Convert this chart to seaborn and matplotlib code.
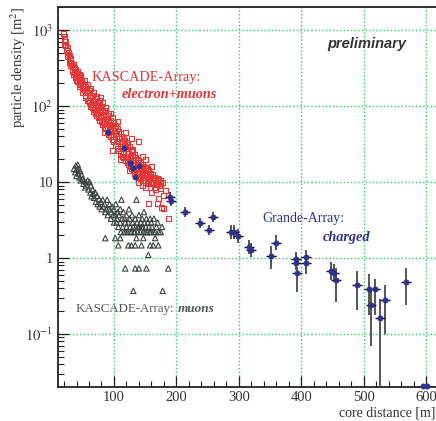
import numpy as np
import matplotlib
matplotlib.use('Agg')
import matplotlib.pyplot as plt
import seaborn as sns
from matplotlib.ticker import FixedLocator, FixedFormatter, MultipleLocator, LogLocator, NullFormatter

# ---- DATA ----
# KASCADE-Array: electron+muons (open red squares)
ekas_x = [19, 20, 20, 21, 22, 23, 24, 25, 26, 25, 27, 28, 29, 30, 30, 31, 32,
          33, 34, 35, 35, 36, 37, 38, 39, 40, 40, 41, 42, 42, 43, 44, 45, 45, 46, 47, 47,
          48, 49, 50, 50, 51, 52, 52, 53, 54, 55, 55, 56, 57, 57, 58, 59, 60, 60, 61, 62, 62,
          63, 64, 65, 65, 66, 67, 67, 68, 69, 70, 70, 71, 72, 72, 73, 74, 75, 75, 76, 77, 77,
          78, 79, 80, 80, 81, 82, 82, 83, 84, 85, 85, 86, 87, 87, 88, 89, 90, 90, 91, 92, 92,
          93, 94, 95, 95, 96, 97, 97, 98, 99, 100, 100, 101, 102, 103, 104, 105, 105, 106, 107,
          108, 107, 109, 110, 110, 111, 112, 113, 112, 114, 115, 115, 116, 117, 118, 117,
          119, 120, 120, 121, 122, 123, 122, 124, 125, 125, 126, 127, 128, 128, 129, 130, 130,
          131, 132, 133, 133, 134, 135, 135, 136, 137, 138, 138, 139, 140, 140, 141, 142, 143,
          143, 144, 145, 145, 146, 147, 148, 148, 149, 150, 150, 151, 152, 153, 153, 154, 155,
          155, 156, 157, 158, 158, 159, 160, 161, 162, 163, 164, 165, 166, 167, 168, 169, 170,
          171, 172, 173, 174, 175, 177, 155, 169, 179, 187, 171, 176, 180, 174, 160, 182, 166,
          150, 139, 130, 145,
          95, 105, 118, 128, 150, 160, 98, 110, 125, 140, 85, 78, 145, 165]
ekas_y = [900, 830, 650, 760, 700, 620, 540, 600, 480, 450, 510, 470, 380, 430, 340, 400, 360,
          330, 290, 350, 260, 310, 280, 300, 240, 270, 220, 250, 290, 210, 240, 200, 260, 180, 220, 190, 250,
          210, 170, 200, 150, 180, 220, 160, 170, 140, 180, 130, 160, 120, 190, 150, 120, 160, 110, 140, 100, 170,
          130, 105, 140, 95, 120, 85, 150, 115, 90, 125, 80, 105, 75, 135, 100, 80, 110, 70, 95, 65, 120,
          90, 70, 100, 62, 85, 58, 110, 78, 60, 88, 52, 72, 50, 95, 68, 52, 75, 45, 62, 42, 80,
          58, 46, 65, 40, 55, 36, 70, 50, 40, 60, 34, 48, 30, 55, 44, 34, 50, 28, 40,
          26, 47, 38, 29, 44, 24, 34, 22, 40, 32, 25, 38, 21, 29, 19, 35,
          28, 22, 33, 18, 25, 17, 31, 24, 19, 29, 16, 22, 15, 26, 21, 17, 25,
          14, 19, 13, 23, 18, 15, 21, 12.5, 17, 12, 20, 16.5, 13.5, 19, 11.5, 15, 11,
          18, 15, 12.5, 17, 10.5, 14, 10.5, 16, 13.5, 11.5, 15.5, 10, 13, 10, 15, 12.5, 10.5,
          14, 9.5, 12, 9.5, 13, 11.5, 10, 12.5, 9.5, 11, 10, 11.5, 9.5, 10.5, 9.2, 11, 10,
          9.5, 10.8, 9, 10.5, 9.5, 10, 5.2, 5.3, 4.5, 3.3, 6.1, 4.6, 6.7, 8.3, 7.2, 7.8, 8.0,
          8.5, 34, 27, 22,
          80, 62, 45, 38, 20, 16, 26, 20, 14, 10, 45, 130, 9, 8.6]

# KASCADE-Array: muons (open grey triangles)
mkas_x = [36, 38, 39, 40, 41, 42, 43, 44, 45, 46, 48, 47,
          50, 51, 52, 54, 55, 56, 58, 59, 61, 62, 63, 64,
          66, 67, 68, 70, 71, 73, 74, 76, 77, 79, 80, 82,
          83, 85, 86, 88, 89, 90, 92, 93, 95, 96, 97, 99, 100, 100,
          102, 103, 104, 105, 106, 107, 108, 110, 110, 111, 112, 113, 114, 115, 116, 117, 118, 119, 120, 120,
          122, 123, 124, 125, 126, 127, 128, 129, 130, 131, 132, 133, 134, 135, 136, 137, 138, 139, 140, 141,
          142, 143, 144, 145, 146, 147, 148, 149, 150, 151, 152, 153, 154, 155, 156, 157, 158, 159, 160, 161,
          163, 164, 166, 168, 170, 172, 175, 177,
          107, 123, 128, 134, 144, 158, 163, 171, 86, 102, 110, 136, 147, 166,
          118, 134, 140, 152, 187, 131, 178]
mkas_y = [15, 13.5, 16.5, 12, 14.5, 17, 13, 15, 11.5, 14, 12.5, 10.5,
          11, 9.5, 10.5, 8.5, 10, 9, 10.5, 8, 10, 7.3, 9, 6.5,
          8, 7, 6.2, 7.3, 5.5, 6.6, 5.13, 6, 4.77, 5.5, 4.4, 5.87,
          4.77, 5.13, 4.03, 4.4, 5.87, 3.67, 4.4, 5.13, 3.3, 4.03, 4.77, 3.67, 4.4, 2.93,
          3.67, 5.13, 2.93, 3.3, 4.03, 2.57, 3.67, 2.93, 4.4, 2.2, 5.87, 3.3, 2.57, 4.03, 2.2, 3.3, 2.93, 2.2, 3.67, 2.57,
          2.2, 2.93, 4.4, 3.3, 2.57, 2.2, 2.2, 3.67, 2.93, 2.57, 2.2, 2.2, 3.3, 2.57, 5.87, 2.93, 2.2, 2.57, 3.67, 2.57,
          2.2, 2.93, 2.57, 3.3, 2.57, 2.2, 4.03, 2.93, 2.2, 2.57, 3.3, 2.2, 2.93, 1.1, 2.57, 2.2, 3.3, 2.2, 2.93, 2.57,
          2.2, 3.3, 2.2, 2.57, 2.93, 2.2, 2.2, 2.57,
          1.47, 1.47, 1.47, 1.47, 1.47, 1.47, 1.47, 1.47, 1.83, 1.83, 1.83, 1.83, 1.83, 1.83,
          0.73, 0.73, 0.73, 0.73, 0.73, 0.37, 0.37]

# Grande-Array: charged (blue points with errors)
gr_x = [91, 116, 125, 131, 140, 134,
        190, 192, 214, 238, 253, 259, 288, 293, 298, 317, 320, 351, 359,
        391, 391, 394, 408, 408, 447, 452, 455, 489, 509, 512, 519, 527, 534, 568, 595, 602]
gr_y = [45, 28, 18, 15.5, 16.4, 11.7,
        6.3, 5.7, 4.0, 2.9, 2.35, 3.5, 2.2, 2.2, 1.95, 1.38, 1.27, 1.07, 1.6,
        0.98, 0.87, 0.64, 1.04, 0.87, 0.67, 0.64, 0.51, 0.44, 0.39, 0.24, 0.39, 0.16, 0.28, 0.48,
        0.0205, 0.0205]
gr_xerr = [0, 0, 0, 0, 0, 0,
           8, 8, 8, 8, 8, 8, 8, 8, 8, 8, 8, 8, 8,
           8, 8, 8, 8, 8, 8, 8, 8, 8, 8, 8, 8, 8, 8, 8, 0, 0]
gr_err_up = [0, 0, 0, 0, 0, 0,
             1.0, 0.9, 0.65, 0.47, 0.38, 0.57, 0.52, 0.52, 0.46, 0.33, 0.30, 0.38, 0.38,
             0.23, 0.21, 0.13, 0.25, 0.21, 0.21, 0.2, 0.22, 0.23, 0.22, 0.14, 0.14, 0.13, 0.16, 0.25,
             0, 0]
gr_err_lo = [0, 0, 0, 0, 0, 0,
             0.9, 0.8, 0.56, 0.41, 0.33, 0.49, 0.42, 0.42, 0.37, 0.26, 0.24, 0.35, 0.31,
             0.19, 0.17, 0.28, 0.2, 0.26, 0.16, 0.15, 0.25, 0.23, 0.21, 0.17, 0.21, 0.159, 0.18, 0.24,
             0, 0]

x_ticks = [100, 200, 300, 400, 500, 600]
y_ticks = [0.1, 1, 10, 100, 1000]
y_tick_labels = ['$10^{-1}$', '1', '10', '$10^{2}$', '$10^{3}$']

red = '#e83535'
blue = '#2e3192'
grey = '#3e4644'
grid_green = '#2ccf6e'

# ---- STYLE ----
sns.set_style('ticks')
plt.rcParams['font.family'] = ['Liberation Serif', 'DejaVu Serif']
plt.rcParams['mathtext.fontset'] = 'stix'

fig = plt.figure(figsize=(4.36, 4.21), dpi=100)
ax = fig.add_axes([0.133, 0.081, 0.867, 0.902])

# ---- MARKERS ----
sns.scatterplot(x=mkas_x, y=mkas_y, marker='^', s=15, facecolor='none',
                edgecolor=grey, linewidth=0.8, ax=ax, zorder=3)
sns.scatterplot(x=ekas_x, y=ekas_y, marker='s', s=13, facecolor='none',
                edgecolor=red, linewidth=0.8, ax=ax, zorder=4)

ax.errorbar(gr_x, gr_y, yerr=[gr_err_lo, gr_err_up], fmt='none',
            ecolor='#555555', elinewidth=1.4, capsize=0, zorder=5)
ax.errorbar(gr_x, gr_y, xerr=gr_xerr, fmt='none',
            ecolor='#111111', elinewidth=1.0, capsize=0, zorder=5)
sns.scatterplot(x=gr_x, y=gr_y, marker='o', s=14, color=blue, edgecolor=blue,
                linewidth=0.5, ax=ax, zorder=6, clip_on=False)

# ---- AXES ----
ax.set_yscale('log')
ax.set_xlim(10.3, 616)
ax.set_ylim(0.0201, 2010)

ax.xaxis.set_major_locator(FixedLocator(x_ticks))
ax.xaxis.set_minor_locator(MultipleLocator(20))
ax.yaxis.set_major_locator(FixedLocator(y_ticks))
ax.yaxis.set_major_formatter(FixedFormatter(y_tick_labels))
ax.yaxis.set_minor_locator(LogLocator(base=10, subs=np.arange(2, 10)))
ax.yaxis.set_minor_formatter(NullFormatter())

ax.tick_params(which='major', direction='in', length=8, width=0.9,
               labelsize=10.5, labelcolor='#333333', color='#222222')
ax.tick_params(which='minor', direction='in', length=4, width=0.8, color='#222222')
ax.tick_params(axis='x', pad=3)

ax.grid(which='major', color=grid_green, linestyle=(0, (1, 1.6)), linewidth=1.0)
ax.set_axisbelow(True)

for side in ['left', 'bottom', 'top']:
    ax.spines[side].set_color('#222222')
    ax.spines[side].set_linewidth(1.3)
ax.spines['right'].set_visible(False)

ax.set_xlabel('')
ax.set_ylabel('')

# ---- TEXT ----
W, H = 436.0, 421.0
def ftext(px, py, s, **kw):
    fig.text(px / W, 1 - py / H, s, **kw)

ftext(435, 413, 'core distance [m]', ha='right', va='center', fontsize=10, color='#333333')
ftext(18, 67, 'particle density [m$^{2}$]', ha='center', va='center', rotation=90,
      fontsize=10.5, color='#333333')

ftext(92, 77, 'KASCADE-Array:', ha='left', va='center', fontsize=10.3, color=red)
ftext(122, 94, 'electron+muons', ha='left', va='center', fontsize=10.3, color=red,
      fontweight='bold', fontstyle='italic')
ftext(327, 44, 'preliminary', ha='left', va='center', fontsize=10.5, color='#333333',
      fontweight='bold', fontstyle='italic', family=['Liberation Sans', 'DejaVu Sans'])
ftext(262, 219, 'Grande-Array:', ha='left', va='center', fontsize=10, color=blue)
ftext(323, 237, 'charged', ha='left', va='center', fontsize=10.3, color=blue,
      fontweight='bold', fontstyle='italic')
ftext(76, 309, 'KASCADE-Array:', ha='left', va='center', fontsize=9.3, color='#555a58')
ftext(178, 309, 'muons', ha='left', va='center', fontsize=9.5, color='#555a58',
      fontweight='bold', fontstyle='italic')

fig.savefig('out.png', dpi=100)
